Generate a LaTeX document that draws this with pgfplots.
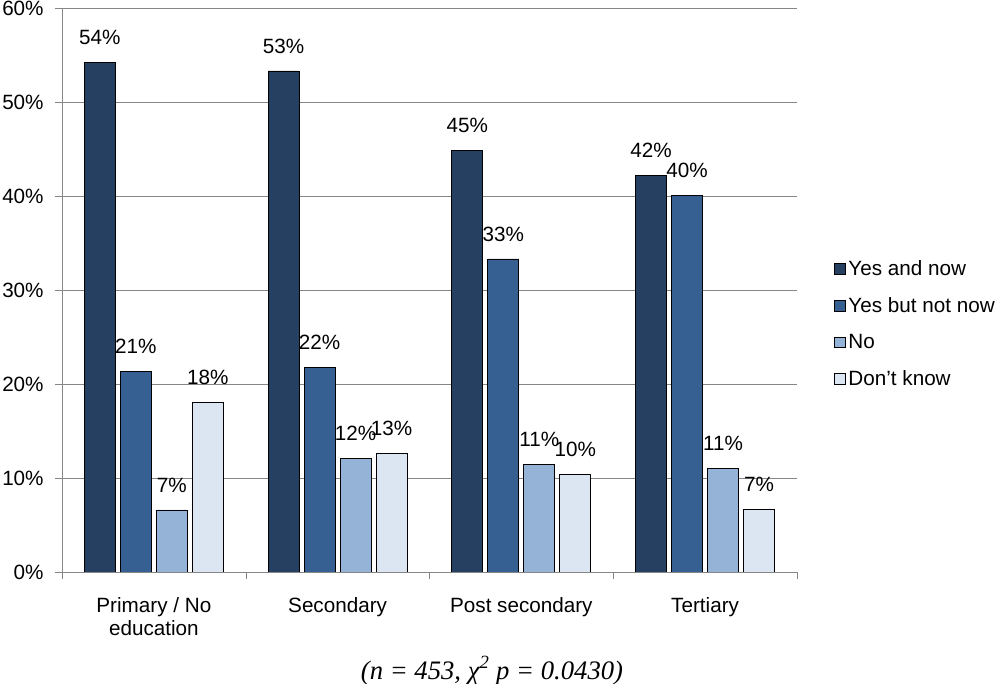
\documentclass[border=0pt]{standalone}
\usepackage{fontspec}
\setmainfont{Liberation Sans}
\newfontfamily\capfont{Liberation Serif}
\usepackage{pgfplots}
\pgfplotsset{compat=1.18}
\definecolor{yesnow}{RGB}{38,64,97}
\definecolor{yesnot}{RGB}{55,96,146}
\definecolor{nocol}{RGB}{149,179,215}
\definecolor{dkcol}{RGB}{220,230,242}
\definecolor{gridgray}{RGB}{134,134,134}

\begin{document}
\begin{tikzpicture}
  % 1 px of the reference = 0.75pt
  \useasboundingbox (-46.5pt,-84pt) rectangle (703.5pt,429pt);
  \begin{axis}[
    scale only axis,
    width=551.25pt, height=423pt,
    xmin=-0.5, xmax=3.5,
    ymin=0, ymax=60,
    ybar=3.75pt, bar width=23.25pt,
    axis x line*=bottom, axis y line*=left,
    axis line style={gridgray},
    tick align=outside,
    major tick length=5.25pt,
    tick style={gridgray},
    xtick={0,1,2,3},
    xticklabels={{Primary / No\\education},Secondary,Post secondary,Tertiary},
    major x tick style={draw=none},
    extra x ticks={-0.5,0.5,1.5,2.5,3.5},
    extra x tick labels={},
    extra x tick style={major x tick style={draw=gridgray}},
    x tick label style={align=center, font=\fontsize{15.5}{17.5}\selectfont, yshift=-10pt},
    ytick={0,10,...,60},
    yticklabel={\pgfmathprintnumber{\tick}\%},
    y tick label style={font=\fontsize{15.5}{17}\selectfont, xshift=-5pt},
    /pgf/number format/assume math mode=true,
    ymajorgrids,
    grid style={gridgray, line width=0.6pt},
    nodes near coords={\pgfmathprintnumber[fixed,precision=0]{\pgfplotspointmeta}\%},
    nodes near coords style={font=\fontsize{15.5}{17}\selectfont, black, inner sep=0pt, yshift=13pt},
    every axis plot/.append style={draw=black, line width=0.6pt},
    legend style={at={(rel axis cs:1.045,0.44)}, anchor=west, draw=none, fill=none,
      font=\fontsize{15.5}{17}\selectfont, row sep=11pt, cells={anchor=west}},
    legend image code/.code={\draw[#1, line width=0.6pt] (0pt,-4pt) rectangle (8pt,4pt);},
  ]
    \addplot[fill=yesnow] coordinates {(0,54.2) (1,53.3) (2,44.8) (3,42.2)};
    \addplot[fill=yesnot] coordinates {(0,21.3) (1,21.8) (2,33.3) (3,40.1)};
    \addplot[fill=nocol]  coordinates {(0,6.6) (1,12.1) (2,11.4) (3,11.0)};
    \addplot[fill=dkcol]  coordinates {(0,18.0) (1,12.6) (2,10.4) (3,6.7)};
    \legend{Yes and now, Yes but not now, No, Don't know}
  \end{axis}
  \node[font=\capfont\itshape\fontsize{20}{22}\selectfont] at (322.5pt,-74pt)
    {(n = 453, χ\textsuperscript{2} p = 0.0430)};
\end{tikzpicture}
\end{document}
